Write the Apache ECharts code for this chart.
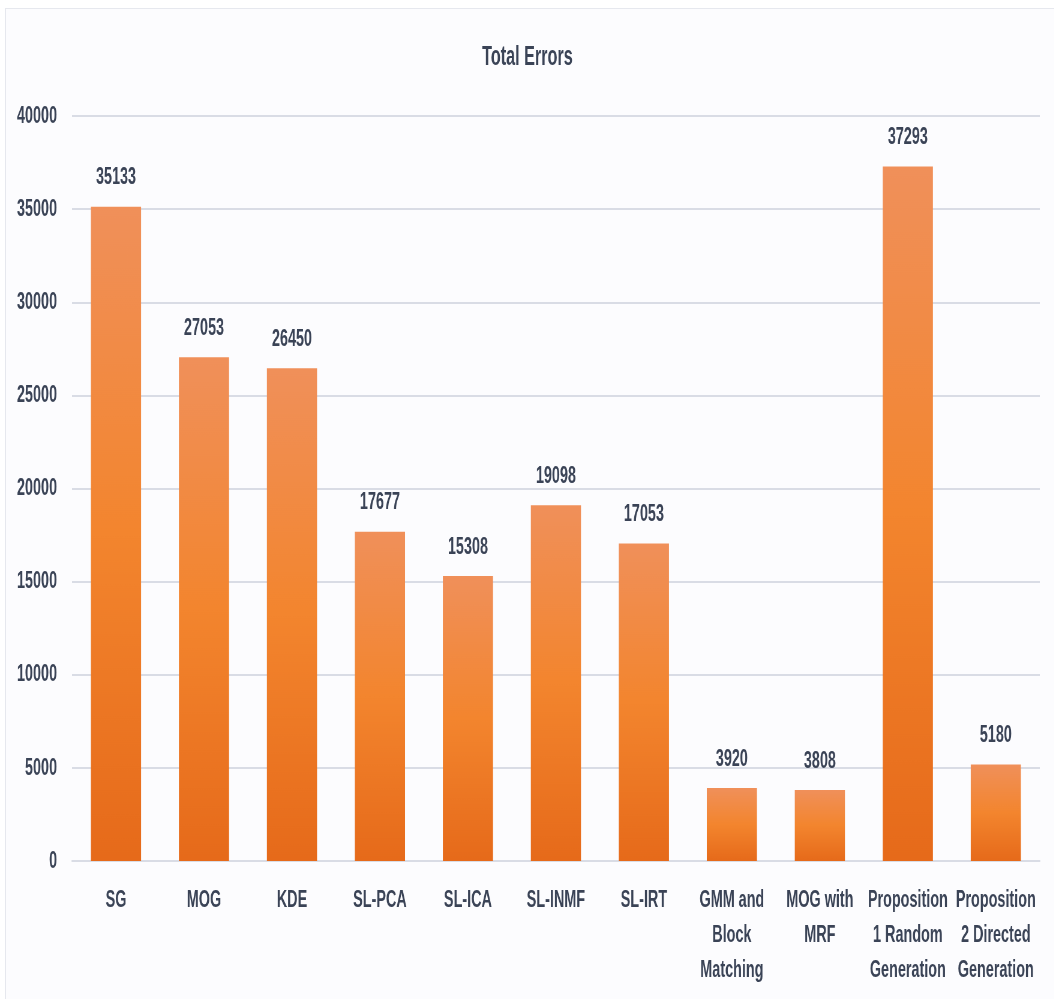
<!DOCTYPE html>
<html>
<head>
<meta charset="utf-8">
<script src="https://cdn.jsdelivr.net/npm/echarts@6/dist/echarts.min.js"></script>
<style>
  html, body { margin: 0; padding: 0; background: #ffffff; overflow: hidden; }
  #frame { position: absolute; left: 5px; top: 8px; width: 1048px; height: 990px; background: #fcfcfe; border-left: 1px solid #e6e8ee; border-top: 1px solid #e6e8ee; }
  /* The chart is laid out wide and squeezed horizontally to give the narrow, tall lettering */
  #chart { width: 1758px; height: 1000px; position: absolute; left: 0; top: 0; transform: scaleX(0.6); transform-origin: 0 0; }
</style>
</head>
<body>
<div id="frame"></div>
<div id="chart"></div>
<script>
// Method names along the x axis
const categories = [
  'SG', 'MOG', 'KDE', 'SL-PCA', 'SL-ICA', 'SL-INMF', 'SL-IRT',
  'GMM and\nBlock\nMatching', 'MOG with\nMRF',
  'Proposition\n1 Random\nGeneration', 'Proposition\n2 Directed\nGeneration'
];
// Total error count per method
const totalErrors = [35133, 27053, 26450, 17677, 15308, 19098, 17053, 3920, 3808, 37293, 5180];
// Value axis ticks
const yTicks = [0, 5000, 10000, 15000, 20000, 25000, 30000, 35000, 40000];

const font = "'Liberation Sans', Arial, sans-serif";
const textColor = '#3a4356';

const chart = echarts.init(document.getElementById('chart'), null, { renderer: 'canvas' });
chart.setOption({
  backgroundColor: 'transparent',
  title: {
    text: 'Total Errors',
    left: 'center',
    top: 39,
    textStyle: { fontFamily: font, fontSize: 27, fontWeight: 'bold', color: textColor }
  },
  grid: { left: 120, right: 25, top: 116, bottom: 139, containLabel: false },
  xAxis: {
    type: 'category',
    data: categories,
    axisLine: { show: true, lineStyle: { color: '#d9dce5', width: 2 } },
    axisTick: { show: false },
    axisLabel: {
      interval: 0,
      margin: 22,
      fontFamily: font, fontSize: 24, fontWeight: 'bold', color: textColor,
      lineHeight: 35
    }
  },
  yAxis: {
    type: 'value',
    min: yTicks[0],
    max: yTicks[yTicks.length - 1],
    interval: yTicks[1] - yTicks[0],
    axisLine: { show: false },
    axisTick: { show: false },
    splitLine: { lineStyle: { color: '#d9dce5', width: 2 } },
    axisLabel: {
      margin: 25,
      formatter: v => String(v),
      fontFamily: font, fontSize: 24, fontWeight: 'bold', color: textColor
    }
  },
  series: [{
    type: 'bar',
    data: totalErrors,
    barWidth: '57%',
    itemStyle: {
      color: new echarts.graphic.LinearGradient(0, 0, 0, 1, [
        { offset: 0, color: '#f0905a' },
        { offset: 0.5, color: '#f3852e' },
        { offset: 1, color: '#e66a1a' }
      ])
    },
    label: {
      show: true,
      position: 'top',
      distance: 17,
      fontFamily: font, fontSize: 24, fontWeight: 'bold', color: textColor
    }
  }]
});
</script>
</body>
</html>
